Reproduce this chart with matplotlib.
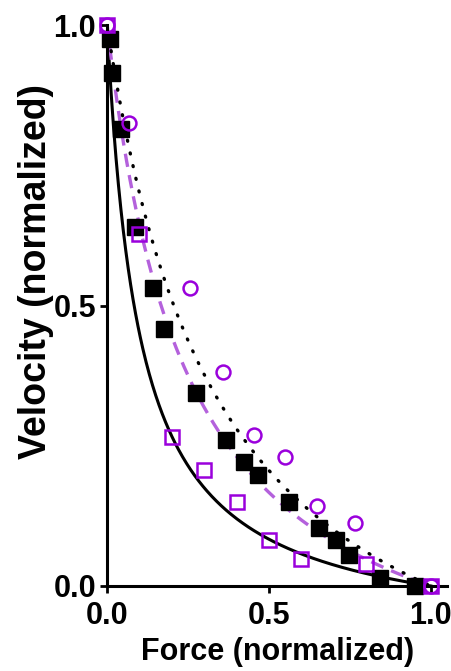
import numpy as np
import matplotlib
matplotlib.use('Agg')
import matplotlib.pyplot as plt

plt.rcParams['font.family'] = ['Liberation Sans', 'DejaVu Sans']

# filled black squares
force_blk = [0.009, 0.016, 0.043, 0.087, 0.143, 0.176, 0.276, 0.366, 0.422, 0.466,
             0.561, 0.654, 0.708, 0.747, 0.842, 0.950]
vel_blk = [0.975, 0.914, 0.815, 0.640, 0.531, 0.459, 0.344, 0.260, 0.221, 0.197,
           0.149, 0.103, 0.082, 0.055, 0.014, 0.0]

# open purple squares
force_sq = [0.0, 0.1, 0.2, 0.3, 0.4, 0.5, 0.6, 0.8, 1.0]
vel_sq = [1.0, 0.627, 0.266, 0.207, 0.149, 0.082, 0.048, 0.040, 0.0]

# open purple circles
force_ci = [0.0, 0.069, 0.257, 0.358, 0.453, 0.548, 0.649, 0.765, 1.0]
vel_ci = [1.0, 0.825, 0.531, 0.381, 0.269, 0.230, 0.143, 0.112, 0.0]

# Hill curvature constants (a/F0) of the fitted curves
a_solid = 0.10
a_dashed = 0.25
a_dotted = 0.35

ticks = [0, 0.5, 1.0]
tick_labels = ['0.0', '0.5', '1.0']

purple = '#9a00dc'
lilac = '#b461dc'

def hill(f, a):
    return (1 - f) / (1 + f / a)

F = np.linspace(0, 1, 400)

fig = plt.figure(figsize=(4.52, 6.71), dpi=100)
ax = fig.add_axes([0.237, 0.1267, 0.752, 0.836])

ax.plot(F, hill(F, a_solid), color='black', lw=2.2, zorder=2)
ax.plot(F, hill(F, a_dashed), color=lilac, lw=2.4, ls=(0, (4, 2.5)), zorder=2)
ax.plot(F, hill(F, a_dotted), color='black', lw=2.4, ls=(0, (0.3, 3.6)),
        dash_capstyle='round', zorder=2)

ax.plot(force_blk, vel_blk, 's', color='black', ms=11, ls='none', clip_on=False, zorder=3)
ax.plot(force_sq, vel_sq, 's', mfc='none', mec=purple, mew=1.8, ms=10, ls='none',
        clip_on=False, zorder=4)
ax.plot(force_ci, vel_ci, 'o', mfc='none', mec=purple, mew=1.8, ms=10, ls='none',
        clip_on=False, zorder=5)

ax.set_xlim(0, 1.05)
ax.set_ylim(0, 1.0)
ax.set_xticks(ticks)
ax.set_yticks(ticks)
ax.set_xticklabels(tick_labels)
ax.set_yticklabels(tick_labels)
for s in ['top', 'right']:
    ax.spines[s].set_visible(False)
for s in ['left', 'bottom']:
    ax.spines[s].set_linewidth(2.2)
ax.tick_params(width=2, length=5, labelsize=22)
ax.tick_params(axis='x', pad=6)
ax.tick_params(axis='y', pad=3)
for lab in ax.get_xticklabels() + ax.get_yticklabels():
    lab.set_fontweight('bold')

ax.set_xlabel('Force (normalized)', fontsize=22, fontweight='bold', va='center')
ax.xaxis.set_label_coords(0.5, -0.117)
ax.set_ylabel('Velocity (normalized)', fontsize=27, fontweight='bold', va='center')
ax.yaxis.set_label_coords(-0.21, 0.56)

fig.savefig('out.png', dpi=100)
